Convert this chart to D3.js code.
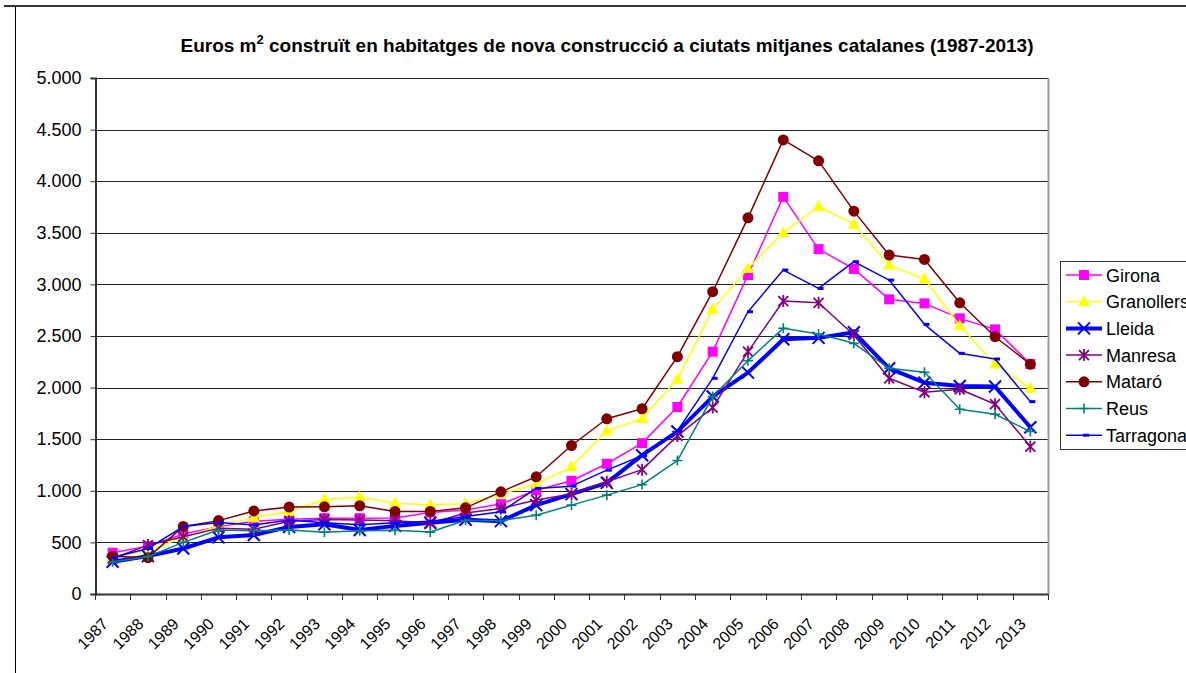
<!doctype html>
<html lang="ca">
<head>
	<meta charset="utf-8">
	<title>Euros m2 construït</title>
	<script src="https://cdn.jsdelivr.net/npm/d3@7"></script>
	<style>
		body { margin: 0; background: #fff; }
		svg { display: block; font-family: Arial, "Liberation Sans", sans-serif; }
	</style>
</head>
<body>
	<div id='viz'>
		<svg style="width:1186px;height:673px;"></svg>
	</div>
	<script>
		// data
		var years = ["1987","1988","1989","1990","1991","1992","1993","1994","1995","1996","1997","1998","1999",
			"2000","2001","2002","2003","2004","2005","2006","2007","2008","2009","2010","2011","2012","2013"];
		var girona = [400,464,581,653,705,725,735,735,737,790,815,871,1006,1097,1262,1462,1812,2348,3090,3848,3342,3150,2855,2816,2671,2564,2229];
		var granollers = [360,419,549,659,740,800,915,940,880,865,875,968,1065,1232,1581,1700,2080,2758,3155,3503,3755,3584,3187,3052,2600,2229,1993];
		var lleida = [312,367,441,549,571,650,675,620,660,690,720,706,861,968,1077,1345,1574,1913,2145,2468,2482,2536,2187,2048,2016,2010,1616];
		var manresa = [344,474,555,636,627,705,722,716,710,687,785,829,910,968,1087,1205,1532,1806,2348,2839,2822,2510,2090,1955,1984,1839,1429];
		var mataro = [367,352,655,711,805,842,845,855,800,800,835,990,1136,1439,1698,1795,2300,2929,3645,4400,4197,3710,3284,3242,2822,2493,2226];
		var reus = [312,362,500,620,614,620,598,612,618,600,715,710,764,861,958,1060,1293,1913,2261,2574,2519,2429,2187,2148,1790,1742,1574];
		var tarragona = [354,441,653,692,669,717,690,670,690,705,750,797,1023,1045,1200,1340,1580,2090,2735,3139,2961,3220,3042,2613,2332,2277,1864];
		var seriesNames = ["Girona","Granollers","Lleida","Manresa","Mataró","Reus","Tarragona"];
		var yTicks = [0,500,1000,1500,2000,2500,3000,3500,4000,4500,5000];

		var series = [
			{name: seriesNames[0], values: girona, color: "#ff00ff", width: 1.5, marker: "square"},
			{name: seriesNames[1], values: granollers, color: "#ffff00", width: 1.5, marker: "triangle"},
			{name: seriesNames[2], values: lleida, color: "#0000ff", width: 4, marker: "x"},
			{name: seriesNames[3], values: manresa, color: "#800080", width: 1.5, marker: "star"},
			{name: seriesNames[4], values: mataro, color: "#800000", width: 1.5, marker: "circle"},
			{name: seriesNames[5], values: reus, color: "#008080", width: 1.5, marker: "plus"},
			{name: seriesNames[6], values: tarragona, color: "#0000ff", width: 1.5, marker: "dash"}
		];

		var svg = d3.select("svg");
		var plotLeft = 95, plotRight = 1048, plotTop = 78, plotBottom = 594;

		var xScale = d3.scaleBand().domain(years).range([plotLeft, plotRight]);
		var yScale = d3.scaleLinear().domain([0, 5000]).range([plotBottom, plotTop]);

		// outer frame
		svg.append("line").attr("x1", 4).attr("x2", 1186).attr("y1", 6).attr("y2", 6)
			.attr("stroke", "#333").attr("stroke-width", 2);
		svg.append("line").attr("x1", 15.5).attr("x2", 15.5).attr("y1", 6).attr("y2", 673)
			.attr("stroke", "#000").attr("stroke-width", 1);

		// title
		var title = svg.append("text").attr("x", 607).attr("y", 52).attr("text-anchor", "middle")
			.style("font-size", "19px").style("font-weight", "bold");
		title.append("tspan").text("Euros m");
		title.append("tspan").attr("dy", -8).style("font-size", "13px").text("2");
		title.append("tspan").attr("dy", 8).text(" construït en habitatges de nova construcció a ciutats mitjanes catalanes (1987-2013)");

		// gridlines
		svg.append("g").selectAll("line").data(yTicks.filter(function(d){ return d > 0; }))
			.enter().append("line")
			.attr("x1", plotLeft).attr("x2", plotRight)
			.attr("y1", function(d){ return Math.round(yScale(d)) + 0.5; })
			.attr("y2", function(d){ return Math.round(yScale(d)) + 0.5; })
			.attr("stroke", "#222").attr("stroke-width", 1);
		// right plot border
		svg.append("line").attr("x1", plotRight + 0.5).attr("x2", plotRight + 0.5).attr("y1", plotTop).attr("y2", plotBottom)
			.attr("stroke", "#999").attr("stroke-width", 2);

		// y axis
		var yAxis = d3.axisLeft(yScale).tickValues(yTicks).tickSize(5).tickPadding(9)
			.tickFormat(function(d){ return d3.format(",")(d).replace(/,/g, "."); });
		var yG = svg.append("g").attr("transform", "translate(" + (plotLeft + 0.5) + ",0)").call(yAxis);
		yG.select(".domain").attr("stroke", "#333").attr("stroke-width", 2);
		yG.selectAll(".tick line").attr("stroke", "#333");
		yG.selectAll("text").style("font-size", "18px").attr("fill", "#000")
			.attr("font-family", "Arial, 'Liberation Sans', sans-serif");

		// x axis: ticks at category boundaries
		svg.append("line").attr("x1", plotLeft).attr("x2", plotRight).attr("y1", plotBottom + 0.5).attr("y2", plotBottom + 0.5)
			.attr("stroke", "#333").attr("stroke-width", 2);
		var bounds = years.map(function(d){ return xScale(d); }).concat([plotRight]);
		svg.append("g").selectAll("line").data(bounds).enter().append("line")
			.attr("x1", function(d){ return Math.round(d) + 0.5; })
			.attr("x2", function(d){ return Math.round(d) + 0.5; })
			.attr("y1", plotBottom).attr("y2", plotBottom + 6)
			.attr("stroke", "#333");
		svg.append("g").selectAll("text").data(years).enter().append("text")
			.attr("text-anchor", "end")
			.attr("transform", function(d){
				return "translate(" + (xScale(d) + xScale.bandwidth() / 2 - 3.5) + "," + (plotBottom + 31) + ") rotate(-45)";
			})
			.style("font-size", "16px")
			.text(function(d){ return d; });

		function cx(i) { return xScale(years[i]) + xScale.bandwidth() / 2; }

		// marker drawing
		function drawMarker(g, kind, color, x, y) {
			if (kind == "square") {
				g.append("rect").attr("x", x - 5).attr("y", y - 5).attr("width", 10).attr("height", 10).attr("fill", color);
			} else if (kind == "triangle") {
				g.append("path").attr("d", "M" + x + "," + (y - 6.5) + "L" + (x + 6) + "," + (y + 4.5) + "L" + (x - 6) + "," + (y + 4.5) + "Z").attr("fill", color);
			} else if (kind == "circle") {
				g.append("circle").attr("cx", x).attr("cy", y).attr("r", 5.5).attr("fill", color);
			} else if (kind == "x") {
				g.append("path").attr("d", "M" + (x - 6) + "," + (y - 6) + "L" + (x + 6) + "," + (y + 6) + "M" + (x - 6) + "," + (y + 6) + "L" + (x + 6) + "," + (y - 6))
					.attr("stroke", color).attr("stroke-width", 2).attr("fill", "none");
			} else if (kind == "star") {
				g.append("path").attr("d", "M" + (x - 5) + "," + (y - 5) + "L" + (x + 5) + "," + (y + 5) + "M" + (x - 5) + "," + (y + 5) + "L" + (x + 5) + "," + (y - 5) + "M" + x + "," + (y - 6) + "L" + x + "," + (y + 6))
					.attr("stroke", color).attr("stroke-width", 1.8).attr("fill", "none");
			} else if (kind == "plus") {
				g.append("path").attr("d", "M" + (x - 5) + "," + y + "L" + (x + 5) + "," + y + "M" + x + "," + (y - 5) + "L" + x + "," + (y + 5))
					.attr("stroke", color).attr("stroke-width", 1.6).attr("fill", "none");
			} else if (kind == "dash") {
				g.append("rect").attr("x", x - 1).attr("y", y - 1.5).attr("width", 6).attr("height", 3).attr("fill", color);
			}
		}

		var line = d3.line()
			.x(function(d, i){ return cx(i); })
			.y(function(d){ return yScale(d); });

		series.forEach(function(s) {
			var g = svg.append("g");
			g.append("path").attr("d", line(s.values)).attr("fill", "none")
				.attr("stroke", s.color).attr("stroke-width", s.width).attr("stroke-linejoin", "round");
			s.values.forEach(function(v, i) {
				drawMarker(g, s.marker, s.color, cx(i), yScale(v));
			});
		});

		// legend
		var legend = svg.append("g");
		legend.append("rect").attr("x", 1060.5).attr("y", 261.5).attr("width", 140).attr("height", 188)
			.attr("fill", "#fff").attr("stroke", "#333").attr("stroke-width", 1);
		series.forEach(function(s, i) {
			var ly = 275 + i * 26.7;
			legend.append("line").attr("x1", 1066).attr("x2", 1102).attr("y1", ly).attr("y2", ly)
				.attr("stroke", s.color).attr("stroke-width", s.width);
			drawMarker(legend, s.marker, s.color, 1084, ly);
			legend.append("text").attr("x", 1106).attr("y", ly + 6.5).style("font-size", "18px").text(s.name);
		});
	</script>
</body>
</html>
